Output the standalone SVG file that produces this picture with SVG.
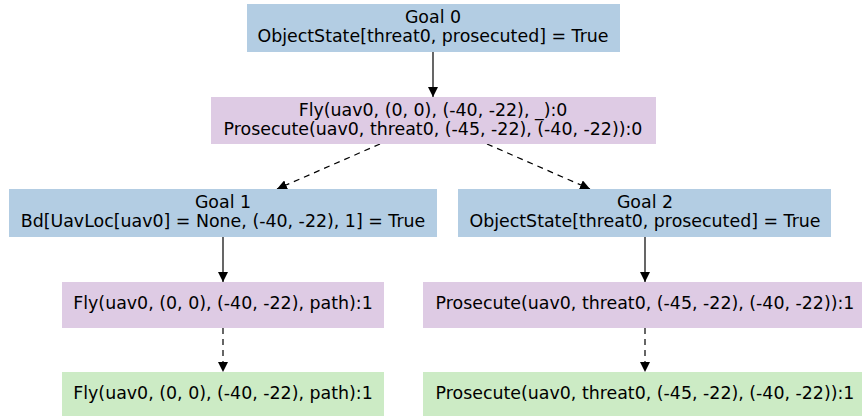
<svg xmlns="http://www.w3.org/2000/svg" width="862" height="416" viewBox="0 0 862 416">
<style>
text{font-family:"DejaVu Sans",sans-serif;font-size:17.4px;fill:#000;text-anchor:middle}
.goal{fill:#b3cde3}
.act{fill:#decbe4}
.done{fill:#ccebc5}
.e{stroke:#000;stroke-width:1.2;fill:none}
.d{stroke-dasharray:6,5}
</style>
<defs>
<marker id="ah" viewBox="0 0 10 10" refX="10" refY="5" markerWidth="10" markerHeight="10" markerUnits="userSpaceOnUse" orient="auto">
<path d="M0,0 L10,5 L0,10 z" fill="#000"/>
</marker>
</defs>
<rect width="862" height="416" fill="#fff"/>
<g id="connectors">
<line class="e" x1="433" y1="52" x2="433" y2="97" marker-end="url(#ah)"/>
<line class="e d" x1="380" y1="144" x2="277" y2="189" marker-end="url(#ah)"/>
<line class="e d" x1="487" y1="144" x2="590" y2="189" marker-end="url(#ah)"/>
<line class="e" x1="223" y1="237" x2="223" y2="282" marker-end="url(#ah)"/>
<line class="e" x1="645" y1="237" x2="645" y2="282" marker-end="url(#ah)"/>
<line class="e d" x1="223" y1="328" x2="223" y2="372" marker-end="url(#ah)"/>
<line class="e d" x1="645" y1="328" x2="645" y2="372" marker-end="url(#ah)"/>
</g>
<g id="goal0">
<rect class="goal" x="247" y="4" width="373" height="48"/>
<text x="433" y="23">Goal 0</text>
<text x="433" y="42">ObjectState[threat0, prosecuted] = True</text>
</g>
<g id="method0">
<rect class="act" x="211" y="97" width="445" height="47"/>
<text x="433" y="116">Fly(uav0, (0, 0), (-40, -22), _):0</text>
<text x="433" y="135">Prosecute(uav0, threat0, (-45, -22), (-40, -22)):0</text>
</g>
<g id="goal1">
<rect class="goal" x="9" y="189" width="428" height="48"/>
<text x="223" y="208">Goal 1</text>
<text x="223" y="227">Bd[UavLoc[uav0] = None, (-40, -22), 1] = True</text>
</g>
<g id="goal2">
<rect class="goal" x="458" y="189" width="373" height="48"/>
<text x="645" y="208">Goal 2</text>
<text x="645" y="227">ObjectState[threat0, prosecuted] = True</text>
</g>
<g id="fly1">
<rect class="act" x="62" y="282" width="322" height="46"/>
<text x="223" y="309">Fly(uav0, (0, 0), (-40, -22), path):1</text>
</g>
<g id="prosecute1">
<rect class="act" x="423" y="282" width="444" height="46"/>
<text x="645" y="309">Prosecute(uav0, threat0, (-45, -22), (-40, -22)):1</text>
</g>
<g id="fly1done">
<rect class="done" x="62" y="372" width="322" height="46"/>
<text x="223" y="399">Fly(uav0, (0, 0), (-40, -22), path):1</text>
</g>
<g id="prosecute1done">
<rect class="done" x="423" y="372" width="444" height="46"/>
<text x="645" y="399">Prosecute(uav0, threat0, (-45, -22), (-40, -22)):1</text>
</g>
</svg>
